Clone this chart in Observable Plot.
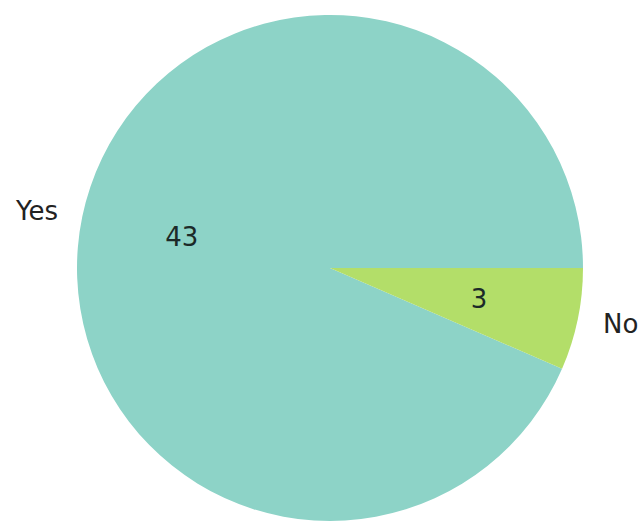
<!DOCTYPE html>
<html>
<head>
<meta charset="utf-8">
<script src="https://cdn.jsdelivr.net/npm/d3@7"></script>
<script src="https://cdn.jsdelivr.net/npm/@observablehq/plot@0.6"></script>
<style>
  html, body { margin: 0; padding: 0; background: #fff; }
</style>
</head>
<body>
<div id="chart"></div>
<script>
const categories = ["Yes", "No"];
const values = [43, 3];
const colors = ["#8dd3c7", "#b3de69"];

const total = d3.sum(values);
// matplotlib-style: counterclockwise from 0 rad (3 o'clock)
let acc = 0;
const slices = categories.map((c, i) => {
  const a0 = acc / total * 2 * Math.PI;
  acc += values[i];
  const a1 = acc / total * 2 * Math.PI;
  const mid = (a0 + a1) / 2;
  return {
    category: c, value: values[i], a0, a1, mid,
    lx: 1.1 * Math.cos(mid), ly: 1.1 * Math.sin(mid),
    px: 0.6 * Math.cos(mid), py: 0.6 * Math.sin(mid)
  };
});

function pieMark(data) {
  return (index, scales, values, dims) => {
    const cx = scales.x(0), cy = scales.y(0);
    const r = Math.abs(scales.x(1) - scales.x(0));
    const g = d3.create("svg:g");
    const arc = d3.arc().innerRadius(0).outerRadius(r);
    data.forEach((d, i) => {
      // convert math angle (ccw from +x) to d3 angle (cw from 12 o'clock)
      const s = Math.PI / 2 - d.a1, e = Math.PI / 2 - d.a0;
      g.append("path")
        .attr("transform", `translate(${cx},${cy})`)
        .attr("d", arc({startAngle: s, endAngle: e}))
        .attr("fill", scales.color(d.category));
    });
    return g.node();
  };
}

const leftLabels = slices.filter(d => d.lx < 0);
const rightLabels = slices.filter(d => d.lx >= 0);

const chart = Plot.plot({
  width: 641,
  height: 527,
  margin: 0,
  x: {domain: [-1, 1], range: [77, 583], axis: null},
  y: {domain: [-1, 1], range: [521, 15], axis: null},
  color: {domain: categories, range: colors},
  style: {fontFamily: "DejaVu Sans", background: "#fff"},
  marks: [
    pieMark(slices),
    Plot.text(leftLabels, {
      x: "lx", y: "ly", text: "category",
      textAnchor: "end", fontSize: 26, fill: "#222"
    }),
    Plot.text(rightLabels, {
      x: "lx", y: "ly", text: "category",
      textAnchor: "start", fontSize: 26, fill: "#222"
    }),
    Plot.text(slices, {
      x: "px", y: "py", text: d => String(d.value),
      fontSize: 26, fill: "#1c2a28"
    })
  ]
});
document.getElementById("chart").appendChild(chart);
</script>
</body>
</html>
